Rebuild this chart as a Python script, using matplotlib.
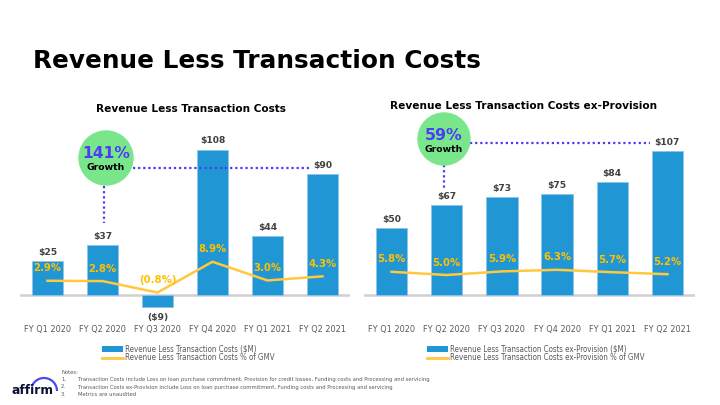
import matplotlib
matplotlib.use("Agg")
import matplotlib.pyplot as plt
from matplotlib.patches import Circle, Arc, Patch
from matplotlib.lines import Line2D

categories = ['FY Q1 2020', 'FY Q2 2020', 'FY Q3 2020', 'FY Q4 2020', 'FY Q1 2021', 'FY Q2 2021']
rev_less_tc = [25, 37, -9, 108, 44, 90]
rev_less_tc_pct = [2.9, 2.8, -0.8, 8.9, 3.0, 4.3]
rev_ex_prov = [50, 67, 73, 75, 84, 107]
rev_ex_prov_pct = [5.8, 5.0, 5.9, 6.3, 5.7, 5.2]

notes = [
    "Transaction Costs include Loss on loan purchase commitment, Provision for credit losses, Funding costs and Processing and servicing",
    "Transaction Costs ex-Provision include Loss on loan purchase commitment, Funding costs and Processing and servicing",
    "Metrics are unaudited",
]

BLUE = '#2196D5'
GOLD = '#FFC000'
LINE = '#FFC83D'
DARK = '#404040'
PURPLE = '#4B3CF5'
GREEN = '#7AE68C'
W, H = 720, 405

fig = plt.figure(figsize=(7.2, 4.05), dpi=100)


def px_axes(x0, y0, x1, y1):
    return fig.add_axes([x0 / W, 1 - y1 / H, (x1 - x0) / W, (y1 - y0) / H])


def money(v):
    return f"${v}" if v >= 0 else f"(${-v})"


def pct(v):
    return f"{v:.1f}%" if v >= 0 else f"({-v:.1f}%)"


def draw_panel(x0, x1, values, pcts, pct_lim, bar_label, line_label, leg_x):
    ax = px_axes(x0, 120, x1, 322)
    xs = range(len(categories))
    ax.bar(xs, values, width=0.57, color=BLUE, edgecolor='#8FC4EA', linewidth=0.6, zorder=2)
    ax.set_xlim(-0.5, len(categories) - 0.5)
    ax.set_ylim(-20, 130)
    ax.axhline(0, color='#D0D0D0', lw=1.8, zorder=1)
    for s in ax.spines.values():
        s.set_visible(False)
    ax.set_yticks([])
    ax.set_xticks(list(xs))
    ax.set_xticklabels(categories, fontsize=5.9, color='#595959')
    ax.tick_params(axis='x', length=0, pad=2.5)
    for x, v in zip(xs, values):
        if v >= 0:
            ax.annotate(money(v), (x, v), xytext=(0, 3), textcoords='offset points',
                        ha='center', va='bottom', fontsize=6.6, fontweight='bold', color=DARK)
        else:
            ax.annotate(money(v), (x, v), xytext=(0, -4), textcoords='offset points',
                        ha='center', va='top', fontsize=6.6, fontweight='bold', color=DARK)

    ax2 = ax.twinx()
    ax2.plot(list(xs), pcts, color=LINE, lw=1.8, zorder=3)
    ax2.set_ylim(*pct_lim)
    ax2.axis('off')
    for x, v in zip(xs, pcts):
        ax2.annotate(pct(v), (x, v), xytext=(0, 9), textcoords='offset points',
                     ha='center', va='center', fontsize=7.3, fontweight='bold', color=GOLD)

    handles = [Patch(facecolor=BLUE, edgecolor='none'), Line2D([], [], color=LINE, lw=2)]
    fig.legend(handles, [bar_label, line_label], loc='upper left',
               bbox_to_anchor=(leg_x / W, 1 - 344.5 / H), frameon=False,
               prop=dict(family='DejaVu Sans', stretch='condensed', size=5.7),
               labelcolor='#595959', handlelength=2.7, handleheight=0.7,
               handletextpad=0.15, labelspacing=0.0, borderpad=0, borderaxespad=0)
    return ax


draw_panel(20, 350, rev_less_tc, rev_less_tc_pct, (-10.1, 53.6),
           'Revenue Less Transaction Costs ($M)', 'Revenue Less Transaction Costs % of GMV', 102)
draw_panel(364, 695, rev_ex_prov, rev_ex_prov_pct, (-6.75, 43.75),
           'Revenue Less Transaction Costs ex-Provision ($M)',
           'Revenue Less Transaction Costs ex-Provision % of GMV', 427)

# overlay in pixel coordinates for titles and callouts
ov = fig.add_axes([0, 0, 1, 1], zorder=10)
ov.set_xlim(0, W)
ov.set_ylim(H, 0)
ov.axis('off')

ov.text(33, 61, 'Revenue Less Transaction Costs', fontsize=17.85, fontweight='bold',
        color='black', ha='left', va='center')
ov.text(191, 109, 'Revenue Less Transaction Costs', fontsize=7.6, fontweight='bold',
        ha='center', va='center', color='black')
ov.text(524, 106, 'Revenue Less Transaction Costs ex-Provision', fontsize=7.6,
        fontweight='bold', ha='center', va='center', color='black')

dots = dict(color=PURPLE, lw=1.6, linestyle=(0, (1, 1.3)))
# left callout
ov.plot([133, 310], [168, 168], **dots)
ov.plot([104, 104], [186, 223], **dots)
ov.add_patch(Circle((106, 158), 27, color=GREEN, zorder=3))
ov.text(106, 154, '141%', fontsize=11.2, fontweight='bold', color=PURPLE,
        ha='center', va='center', zorder=4)
ov.text(106, 167.5, 'Growth', fontsize=6.7, fontweight='bold', color='black',
        ha='center', va='center', zorder=4)
# right callout
ov.plot([470, 650], [143, 143], **dots)
ov.plot([444, 444], [165, 190], **dots)
ov.add_patch(Circle((444, 139), 26, color=GREEN, zorder=3))
ov.text(444, 135, '59%', fontsize=11.3, fontweight='bold', color=PURPLE,
        ha='center', va='center', zorder=4)
ov.text(444, 149, 'Growth', fontsize=6.7, fontweight='bold', color='black',
        ha='center', va='center', zorder=4)

# notes
ov.text(61, 372, 'Notes:', fontsize=3.8, color='#595959', ha='left', va='center')
for i, n in enumerate(notes):
    y = 379.5 + i * 7.5
    ov.text(61, y, f'{i + 1}.', fontsize=3.8, color='#595959', ha='left', va='center')
    ov.text(78, y, n, fontsize=3.8, color='#595959', ha='left', va='center')

# affirm logo
ov.text(12, 390, 'affirm', fontsize=8.8, fontweight='bold', color='#0A1033',
        ha='left', va='center')
ov.add_patch(Arc((44, 391), 26, 26, theta1=200, theta2=360, color='#4A4AF4', lw=1.6))

fig.savefig('out.png', dpi=100)
